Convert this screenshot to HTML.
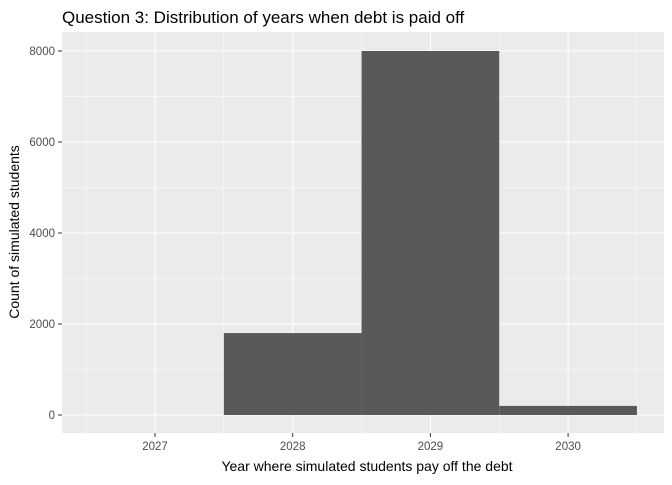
<!DOCTYPE html>
<html><head><meta charset="utf-8"><style>
body{margin:0;background:#fff;font-family:"Liberation Sans",Arial,sans-serif}
</style></head><body>
<svg width="672" height="480" xmlns="http://www.w3.org/2000/svg">
<text x="62" y="23" font-size="17" fill="#000">Question 3: Distribution of years when debt is paid off</text>
<rect x="62" y="32" width="602" height="401" fill="#ebebeb"/>
<g id="grid"></g><g id="bars"></g><g id="axes"></g>
<text x="367" y="471" font-size="14" text-anchor="middle">Year where simulated students pay off the debt</text>
<text transform="translate(19,232) rotate(-90)" font-size="14" text-anchor="middle">Count of simulated students</text>
</svg>
<script>
const years=[2027,2028,2029,2030];
const counts=[0,1800,8000,200];
const yTicks=[0,2000,4000,6000,8000];
const NS="http://www.w3.org/2000/svg";
const xs=y=>155+(y-2027)*137.7;
const ys=v=>415-v*0.0455;
function mk(tag,attrs,parent){const e=document.createElementNS(NS,tag);for(const k in attrs)e.setAttribute(k,attrs[k]);document.getElementById(parent).appendChild(e);return e;}
const pl=62,pr=664,pt=32,pb=433;
yTicks.forEach((t,i)=>{
  if(i<yTicks.length-1){const m=ys(t+1000);const g=mk('line',{x1:pl,x2:pr,y1:m,y2:m,stroke:'#fff','stroke-width':0.5},'grid');}
  const g=mk('line',{x1:pl,x2:pr,y1:ys(t),y2:ys(t),stroke:'#fff','stroke-width':1.1},'grid');
  
  const tk=mk('line',{x1:58,x2:62,y1:ys(t),y2:ys(t),stroke:'#333'},'axes');
  
  const tx=mk('text',{x:55,y:ys(t)+4,'font-size':11.5,fill:'#4d4d4d','text-anchor':'end'},'axes');tx.textContent=t;
  
});
[2026.5,2027.5,2028.5,2029.5,2030.5].forEach(v=>{const g=mk('line',{x1:xs(v),x2:xs(v),y1:pt,y2:pb,stroke:'#fff','stroke-width':0.5},'grid');});
years.forEach((yr,i)=>{
  const g=mk('line',{x1:xs(yr),x2:xs(yr),y1:pt,y2:pb,stroke:'#fff','stroke-width':1.1},'grid');
  
  const b=mk('rect',{x:xs(yr-0.5),width:xs(yr+0.5)-xs(yr-0.5),y:ys(counts[i]),height:ys(0)-ys(counts[i]),fill:'#595959'},'bars');
  
  const tk=mk('line',{x1:xs(yr),x2:xs(yr),y1:433,y2:437,stroke:'#333'},'axes');
  
  const tx=mk('text',{x:xs(yr),y:450,'font-size':11.5,fill:'#4d4d4d','text-anchor':'middle'},'axes');tx.textContent=yr;
  
});
</script>
</body></html>
